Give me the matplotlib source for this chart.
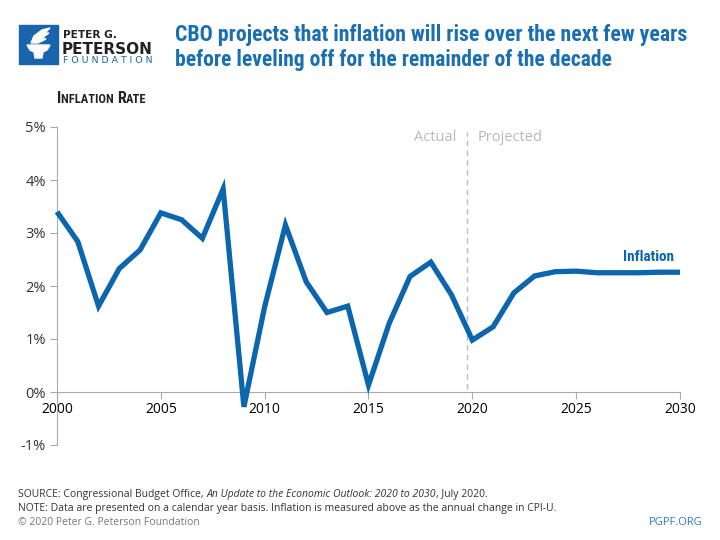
import matplotlib
matplotlib.use('Agg')
from matplotlib import pyplot as plt
from matplotlib.patches import Rectangle, Polygon

years = list(range(2000, 2031))
inflation = [3.40, 2.84, 1.62, 2.33, 2.68, 3.38, 3.25, 2.90, 3.83, -0.28,
             1.61, 3.15, 2.08, 1.50, 1.62, 0.13, 1.30, 2.18, 2.45, 1.83,
             0.98, 1.23, 1.87, 2.19, 2.27, 2.28, 2.25, 2.25, 2.25, 2.26, 2.26]
y_ticks = [-1, 0, 1, 2, 3, 4, 5]
x_ticks = [2000, 2005, 2010, 2015, 2020, 2025, 2030]
split_year = 2019.75

blue = '#0b66ad'
gray_txt = '#333333'
cond = ['Roboto Condensed', 'Roboto', 'DejaVu Sans']
plt.rcParams['font.family'] = ['Open Sans', 'DejaVu Sans']

fig = plt.figure(figsize=(7.2, 5.4), dpi=100)
ax = fig.add_axes([57/720, 1-445/540, 623/720, 318/540])
r = fig.canvas.get_renderer()


def fit(t, width_px):
    # shrink/grow a text so that it spans width_px pixels
    w = t.get_window_extent(r).width
    t.set_fontsize(t.get_fontsize() * width_px / w)
    return t


ax.plot(years, inflation, color=blue, lw=3.8, solid_joinstyle='miter',
        solid_capstyle='butt', clip_on=False, zorder=3)
ax.axvline(split_year, ymin=(0.05+1)/6, ymax=(4.9+1)/6, color='#bbbbbb', lw=1, ls=(0, (4, 3)), zorder=2)
ax.text(split_year - 0.5, 4.8, 'Actual', ha='right', va='center', color='#b8b8b8', fontsize=10.5)
ax.text(split_year + 0.5, 4.8, 'Projected', ha='left', va='center', color='#b8b8b8', fontsize=10.5)
ax.text(2029.7, 2.55, 'Inflation', ha='right', va='center', color=blue, fontsize=11,
        fontweight='bold', family=cond)

ax.set_xlim(2000, 2030)
ax.set_ylim(-1, 5)
ax.set_yticks(y_ticks)
ax.set_yticklabels([f'{t}%' for t in y_ticks], fontsize=10.5, color=gray_txt)
ax.set_xticks(x_ticks)
ax.set_xticklabels([str(t) for t in x_ticks], fontsize=10.5, color=gray_txt)
for s in ['top', 'right']:
    ax.spines[s].set_visible(False)
ax.spines['left'].set_color('#aaaaaa')
ax.spines['bottom'].set_color('#aaaaaa')
ax.spines['bottom'].set_position(('data', 0))
ax.tick_params(axis='y', length=5, color='#aaaaaa', pad=3)
ax.tick_params(axis='x', length=5, color='#aaaaaa', pad=2)

# logo
fig.patches.append(Rectangle((19/720, 1-64/540), 39/720, 39/540, transform=fig.transFigure,
                             color='#1a64ad'))
torch = [(27, 45), (50, 45), (47, 50), (43, 52), (42, 58), (35, 58), (34, 52), (30, 50)]
fig.patches.append(Polygon([(x/720, 1-y/540) for x, y in torch], transform=fig.transFigure,
                           color='white'))
flame = [(31, 43), (34, 36), (42, 30), (50, 28), (45, 33), (49, 33), (42, 38), (46, 39), (38, 43)]
fig.patches.append(Polygon([(x/720, 1-y/540) for x, y in flame], transform=fig.transFigure,
                           color='white'))
fig.text(63/720, 1-38/540, 'PETER G.', fontsize=7.6, fontweight='bold', family=['DejaVu Sans'],
         color='#222222', va='baseline')
fig.text(62/720, 1-53.5/540, 'PETERSON', fontsize=11, fontweight='bold', family=['DejaVu Sans'],
         color='#222222', va='baseline')
fit(fig.text(63/720, 1-63/540, 'F O U N D A T I O N', fontsize=6.3, family=['DejaVu Sans'],
             color='#1a64ad', va='baseline'), 90)

# title
fit(fig.text(175/720, 1-41/540, 'CBO projects that inflation will rise over the next few years',
             fontsize=15, fontweight='bold', family=cond, color='#1a6fb0', va='baseline'), 511)
fit(fig.text(175/720, 1-66/540, 'before leveling off for the remainder of the decade',
             fontsize=15, fontweight='bold', family=cond, color='#1a6fb0', va='baseline'), 437)

# small caps axis title
x0 = 57/720
yb = 1-103/540
for txt, fs in [('I', 11.5), ('NFLATION ', 9), ('R', 11.5), ('ATE', 9)]:
    t = fig.text(x0, yb, txt, fontsize=fs, fontweight='bold', family=cond, color='#222222',
                 va='baseline')
    x0 += t.get_window_extent(r).width / 720

# footer
x0 = 18/720
yb = 1-497/540
parts = [('SOURCE: Congressional Budget Office, ', 'normal'),
         ('An Update to the Economic Outlook: 2020 to 2030', 'italic'),
         (', July 2020.', 'normal')]
for txt, st in parts:
    t = fig.text(x0, yb, txt, fontsize=7.5, fontstyle=st, color='#333333', va='baseline')
    x0 += t.get_window_extent(r).width / 720
fig.text(18/720, 1-511/540,
         'NOTE: Data are presented on a calendar year basis. Inflation is measured above as the annual change in CPI-U.',
         fontsize=7.5, color='#333333', va='baseline')
fig.text(18/720, 1-525/540, '\u00a9 2020 Peter G. Peterson Foundation', fontsize=7.5,
         color='#777777', va='baseline')
fig.text(702/720, 1-525/540, 'PGPF.ORG', fontsize=8, color='#2a7ab8', va='baseline', ha='right')

plt.savefig('out.png', dpi=100)
